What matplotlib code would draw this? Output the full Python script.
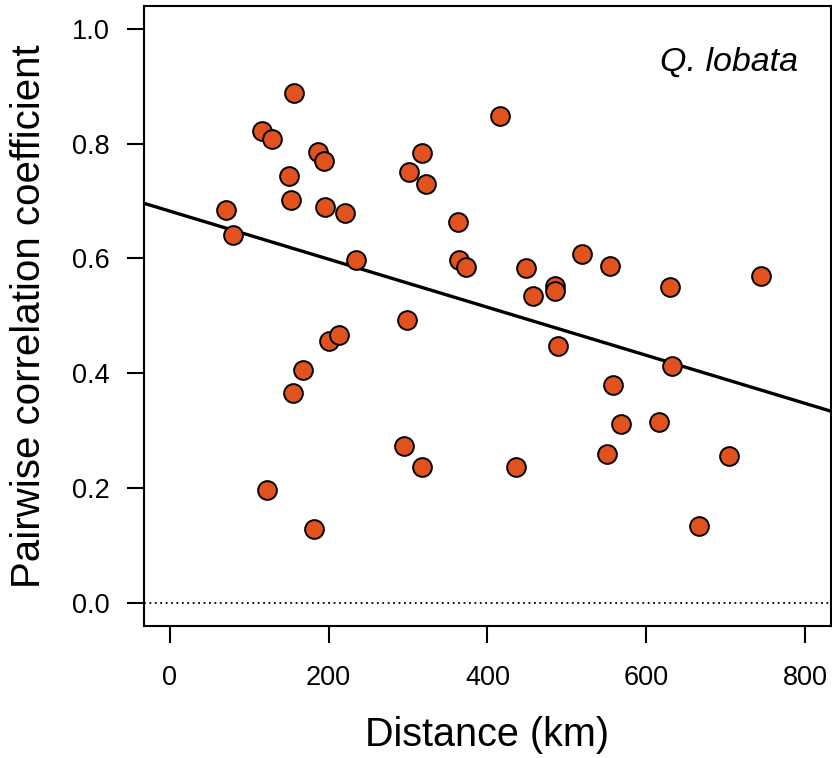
import matplotlib
matplotlib.use("Agg")
import matplotlib.pyplot as plt

# distance (km) and pairwise correlation
distance = [70.8, 79.6, 116.0, 121.9, 129.1, 150.0, 152.5, 155.0, 157.1, 168.4,
            181.9, 186.5, 194.0, 195.7, 199.9, 212.9, 220.4, 235.1, 294.5, 298.3,
            300.8, 317.2, 317.6, 322.7, 363.3, 363.7, 372.9, 415.2, 435.3, 448.8,
            457.2, 484.8, 484.8, 489.0, 519.2, 550.6, 554.8, 558.2, 568.2, 616.4,
            629.8, 632.7, 665.9, 704.3, 744.6]
correlation = [0.685, 0.641, 0.823, 0.196, 0.809, 0.744, 0.702, 0.365, 0.889, 0.405,
               0.128, 0.785, 0.769, 0.690, 0.457, 0.467, 0.680, 0.597, 0.274, 0.4925,
               0.750, 0.236, 0.784, 0.729, 0.664, 0.597, 0.585, 0.848, 0.236, 0.584,
               0.534, 0.552, 0.544, 0.447, 0.608, 0.260, 0.587, 0.379, 0.311, 0.315,
               0.551, 0.412, 0.133, 0.2555, 0.570]

# fitted regression line
intercept = 0.6826
slope = -0.000419

x_ticks = [0, 200, 400, 600, 800]
y_ticks = [0.0, 0.2, 0.4, 0.6, 0.8, 1.0]
species = "Q. lobata"

plt.rcParams["font.family"] = ["Liberation Sans", "DejaVu Sans"]

fig = plt.figure(figsize=(8.32, 7.58), dpi=100)
ax = fig.add_axes([0.1734, 0.1745, 0.825, 0.8176])

ax.set_xlim(-32, 832)
ax.set_ylim(-0.04, 1.04)

ax.axhline(0, color="black", lw=1.3, linestyle=(0, (1, 2)), zorder=1)

xs = [-32, 832]
ax.plot(xs, [intercept + slope * v for v in xs], color="black", lw=2.4, zorder=2)

ax.scatter(distance, correlation, s=13.5 ** 2, facecolor="#E2521F",
           edgecolor="black", linewidth=1.4, zorder=3)

ax.set_xticks(x_ticks)
ax.set_xticklabels([str(v) for v in x_ticks])
ax.set_yticks(y_ticks)
ax.set_yticklabels(["%.1f" % v for v in y_ticks])
ax.tick_params(direction="out", length=12, width=1.5, labelsize=19.5)
ax.tick_params(axis="y", pad=13)
ax.tick_params(axis="x", pad=16)

for sp in ax.spines.values():
    sp.set_linewidth(1.5)

ax.set_xlabel("Distance (km)", fontsize=28.5, va="baseline")
ax.xaxis.set_label_coords(0.5, -0.194)
ax.set_ylabel("Pairwise correlation coefficient", fontsize=29)
ax.yaxis.set_label_coords(-0.14, 0.5)

ax.text(0.9528, 0.8956, species, transform=ax.transAxes, fontsize=24.5,
        style="italic", ha="right", va="baseline")

fig.savefig("out.png", dpi=100)
